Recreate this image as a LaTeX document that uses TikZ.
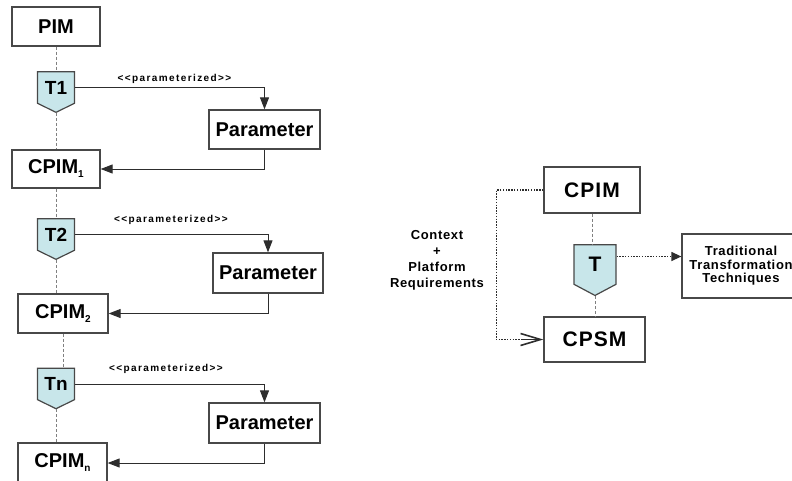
\documentclass[tikz,border=0pt]{standalone}
\usepackage{fontspec}
\setmainfont{Liberation Sans}
\newfontfamily\spacedfont[LetterSpace=14]{Liberation Sans}
\newfontfamily\widefont[LetterSpace=5]{Liberation Sans}
\usepackage{xcolor}
\usepackage{tikz}
\usetikzlibrary{positioning}
\usetikzlibrary{arrows.meta,shapes.symbols}
\usetikzlibrary{calc}
\definecolor{trafoblue}{RGB}{200,230,234}
\definecolor{boxgray}{RGB}{72,72,72}
\definecolor{linegray}{RGB}{45,45,45}
\newcommand{\lowsub}[1]{\raisebox{-4pt}{\fontsize{10}{10}\selectfont #1}}
\tikzstyle{modelbox}=[rectangle,draw=boxgray,line width=1.3pt,fill=white,inner sep=0pt,font=\bfseries\fontsize{20}{22}\selectfont]
\tikzstyle{bigbox}=[modelbox,font=\widefont\bfseries\fontsize{21}{23}\selectfont]
\tikzstyle{trafo}=[signal,signal to=south,signal from=nowhere,signal pointer angle=128,draw=boxgray,fill=trafoblue,line width=1.2pt,minimum width=37pt,minimum height=37pt,inner sep=0pt,font=\bfseries\fontsize{19}{21}\selectfont]
\tikzstyle{edge} = [draw,line width=1pt,linegray,-{Triangle[length=12pt,width=9pt]}]
\tikzstyle{trace} = [draw,gray,line width=1pt,dash pattern=on 3pt off 2pt]
\tikzstyle{dotedge} = [draw,linegray,line width=1.3pt,dash pattern=on 1.3pt off 1.5pt]
\tikzstyle{stereo} = [font=\spacedfont\bfseries\fontsize{10}{11}\selectfont]
\tikzstyle{smalltext} = [align=center,font=\widefont\bfseries\fontsize{13}{16}\selectfont]

\begin{document}
\begin{tikzpicture}[x=1pt,y=-1pt]
  \useasboundingbox (0,0) rectangle (792,480);

   \foreach \x/\y/\w/\h/\name/\label in {56/26.5/88/39/pim/PIM, 56/169/88/38/cpim1/CPIM\lowsub{1}, 63/313.5/90/39/cpim2/CPIM\lowsub{2}, 62.5/463/89/40/cpimn/CPIM\lowsub{n}}
          \node[modelbox,minimum width=\w pt,minimum height=\h pt] (\name) at (\x,\y) {\label};

   \foreach \x/\y/\w/\h/\name in {264.5/129.5/111/39/par1, 268/273/110/40/par2, 264.5/423/111/40/parn}
          \node[modelbox,minimum width=\w pt,minimum height=\h pt] (\name) at (\x,\y) {Parameter};

   \foreach \x/\y/\name/\label in {56/87.5/t1/T1, 56/234.5/t2/T2, 56/384/tn/Tn}
          \node[trafo] (\name) at (\x,\y) {\label};

   \foreach \x/\y/\name in {174.5/79/st1, 171/220/st2, 166/369/stn}
          \node[stereo] (\name) at (\x,\y) {<<parameterized>>};

  \foreach \source/ \dest in {pim/t1, t1/cpim1, cpim1/t2, t2/cpim2, cpim2/tn, tn/cpimn}
         \path[trace] (\source.south) -- (\source.south |- \dest.north);

  \foreach \tr/\pbox/\res in {t1/par1/cpim1, t2/par2/cpim2, tn/parn/cpimn}
  {
         \path[edge] (\tr.east) -| (\pbox.north);
         \path[edge] (\pbox.south) |- (\res.east);
  }

  % right part
  \node[bigbox,minimum width=96pt,minimum height=46pt] (cpim) at (592,190) {CPIM};
  \node[trafo,minimum width=42pt,minimum height=43pt,signal pointer angle=124,font=\bfseries\fontsize{21}{23}\selectfont] (t) at (595,264.5) {T};
  \node[bigbox,minimum width=101pt,minimum height=45pt] (cpsm) at (594.5,339.5) {CPSM};
  \node[modelbox,minimum width=118pt,minimum height=64pt,smalltext,font=\widefont\bfseries\fontsize{13}{13.5}\selectfont] (trad) at (741,266) {Traditional\\Transformation\\Techniques};
  \node[smalltext] (ctx) at (437,260) {Context\\+\\Platform\\Requirements};

  \path[trace] (cpim.south) -- (cpim.south |- t.north);
  \path[trace] (t.south) -- (t.south |- cpsm.north);

  \coordinate (tout) at ([yshift=8pt]t.east);
  \path[dotedge,-{Triangle[length=10pt,width=9pt]}] (tout) -- (tout -| trad.west);
  \path[dotedge] (cpim.west) -- ([xshift=-47pt]cpim.west) |- ([xshift=-22pt]cpsm.west);
  \path[draw,linegray,line width=1.6pt,-{Straight Barb[length=20pt,width=12pt,line width=1.6pt]}] ([xshift=-22pt]cpsm.west) -- (cpsm.west);

\end{tikzpicture}
\end{document}
